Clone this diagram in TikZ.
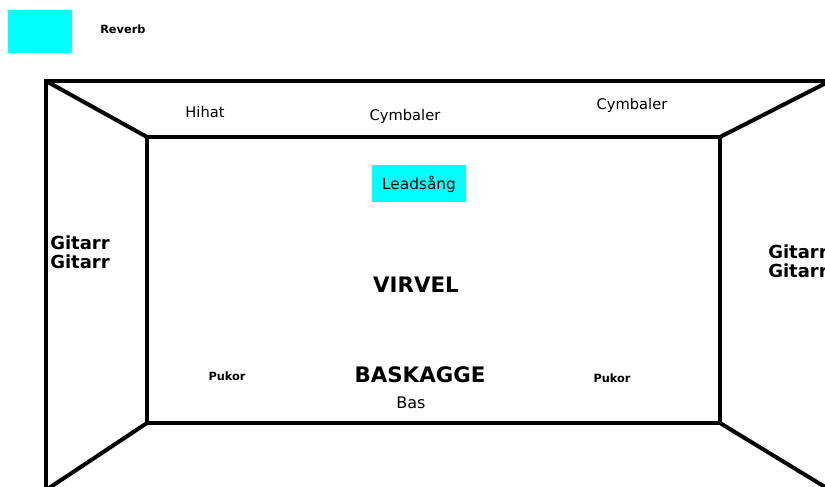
\documentclass[tikz,border=0pt]{standalone}
\usepackage{fontspec}
\setmainfont{DejaVu Sans}
\definecolor{aqua}{RGB}{0,255,255}
\begin{document}
\begin{tikzpicture}[x=0.75pt,y=-0.75pt,
  wall/.style={line width=3pt,line join=miter},
  lbl/.style={inner sep=0pt,font=\fontsize{11}{13}\selectfont},
  big/.style={inner sep=0pt,font=\fontsize{16}{18}\selectfont\bfseries},
  small/.style={inner sep=0pt,font=\fontsize{8.5}{10}\selectfont\bfseries},
  guitar/.style={inner sep=0pt,align=left,font=\fontsize{13.5}{14.5}\selectfont\bfseries},
  cyanbox/.style={fill=aqua,draw=none}]
  \useasboundingbox (0,0) rectangle (825,486);
  \clip (0,0) rectangle (825,486);

  % legend
  \fill[cyanbox] (8,10) rectangle (72,53);
  \node[small,font=\fontsize{8.5}{10}\selectfont\bfseries,anchor=west] (reverb) at (100,29) {Reverb};

  % room: outer frame, back wall and the four corner edges
  \coordinate (otl) at (46,81);
  \coordinate (otr) at (830,81);
  \coordinate (obl) at (46,490);
  \coordinate (obr) at (830,490);
  \coordinate (itl) at (147,137);
  \coordinate (itr) at (720,137);
  \coordinate (ibl) at (147,423);
  \coordinate (ibr) at (720,423);
  \draw[wall] (otl) rectangle (obr);
  \draw[wall] (itl) rectangle (ibr);
  \draw[wall] (otl) -- (itl);
  \draw[wall] (otr) -- (itr);
  \draw[wall] (ibl) -- (obl);
  \draw[wall] (ibr) -- (obr);

  % vocals
  \fill[cyanbox] (372,165) rectangle (466,202);
  \node[lbl,font=\fontsize{11.5}{13}\selectfont] (lead) at (419,184) {Leadsång};

  % instruments
  \node[lbl] (hihat) at (205,112) {Hihat};
  \node[lbl] (cymb1) at (405,116) {Cymbaler};
  \node[lbl] (cymb2) at (632,105) {Cymbaler};
  \node[guitar,anchor=west] (gitl) at (50,252) {Gitarr\\Gitarr};
  \node[guitar,anchor=west] (gitr) at (768,261) {Gitarr\\Gitarr};
  \node[big] (virvel) at (416,285) {VIRVEL};
  \node[big] (kick) at (420,375) {BASKAGGE};
  \node[lbl,font=\fontsize{12}{14}\selectfont] (bas) at (411,403) {Bas};
  \node[small] (puk1) at (227,376) {Pukor};
  \node[small] (puk2) at (612,378) {Pukor};
\end{tikzpicture}
\end{document}
